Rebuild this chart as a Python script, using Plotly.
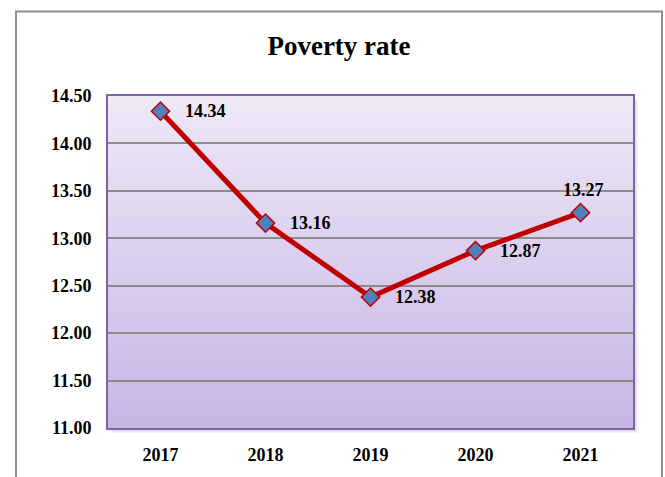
import plotly.graph_objects as go

# Poverty rate by year (%)
years = [2017, 2018, 2019, 2020, 2021]
rates = [14.34, 13.16, 12.38, 12.87, 13.27]
y_ticks = [11.0, 11.5, 12.0, 12.5, 13.0, 13.5, 14.0, 14.5]

# label placement per point: (x shift px, y shift px, x anchor)
label_place = [(22, 0, "left"), (22, 0, "left"), (22, 0, "left"), (22, 0, "left"), (3, 23, "center")]

W, H = 665, 477
L, R, T, B = 108, 32, 96, 47
plot_w, plot_h = W - L - R, H - T - B

font_fam = "Liberation Serif, Times New Roman, serif"

fig = go.Figure()
fig.add_trace(go.Scatter(
    x=years, y=rates, mode="lines+markers",
    line=dict(color="#C00000", width=5),
    marker=dict(symbol="diamond", size=14, color="#4F81BD",
                line=dict(color="#C00000", width=1.5)),
    hoverinfo="x+y", showlegend=False,
))

annotations = []
for yr, v, (dx, dy, anc) in zip(years, rates, label_place):
    annotations.append(dict(
        x=yr, y=v, xref="x", yref="y", text=f"{v:.2f}", showarrow=False,
        xanchor=anc, yanchor="middle", xshift=dx, yshift=dy,
        font=dict(family=font_fam, size=18, color="black", weight=700),
    ))

shapes = []


def px_x(p):
    return (p - L) / plot_w


def px_y(p):
    return (H - B - p) / plot_h


# outer chart frame
shapes.append(dict(type="rect", xref="paper", yref="paper",
                   x0=px_x(16), x1=px_x(662), y0=px_y(490), y1=px_y(11),
                   line=dict(color="#8E8E8E", width=2), fillcolor="rgba(0,0,0,0)",
                   layer="below"))

# soft drop shadow under the plot area
for i, a in enumerate([0.10, 0.08, 0.05]):
    o = 2 + i * 1.5
    shapes.append(dict(type="rect", xref="paper", yref="paper",
                       x0=o / plot_w, x1=1 + o / plot_w,
                       y0=-o / plot_h, y1=1 - o / plot_h,
                       line=dict(width=0), fillcolor=f"rgba(0,0,0,{a})",
                       layer="below"))

# vertical lavender gradient fill of the plot area
top_c = (238, 232, 246)
bot_c = (199, 181, 230)
n = 80
for i in range(n):
    t = i / (n - 1)
    c = tuple(round(bot_c[k] + (top_c[k] - bot_c[k]) * t) for k in range(3))
    shapes.append(dict(type="rect", xref="paper", yref="paper",
                       x0=0, x1=1, y0=i / n, y1=min(1, (i + 1) / n + 0.002),
                       line=dict(width=0), fillcolor=f"rgb{c}", layer="below"))

fig.update_layout(
    width=W, height=H,
    margin=dict(l=L, r=R, t=T, b=B, pad=0),
    paper_bgcolor="white", plot_bgcolor="rgba(0,0,0,0)",
    title=dict(text="<b>Poverty rate</b>", x=339 / W, xanchor="center",
               y=1 - 46 / H, yanchor="middle", xref="container", yref="container",
               font=dict(family=font_fam, size=27, color="black")),
    shapes=shapes, annotations=annotations,
    xaxis=dict(range=[years[0] - 0.5, years[-1] + 0.5], tickvals=years,
               ticktext=[str(y) for y in years],
               showgrid=False, zeroline=False,
               showline=True, linecolor="#8064A2", linewidth=2, mirror=True,
               ticks="", ticklabelstandoff=9,
               tickfont=dict(family=font_fam, size=18, color="black", weight=700)),
    yaxis=dict(range=[11, 14.5], tickvals=y_ticks, tickformat=".2f",
               showgrid=True, gridcolor="#8C8C8C", gridwidth=1.5, zeroline=False,
               showline=True, linecolor="#8064A2", linewidth=2, mirror=True,
               ticks="", ticklabelstandoff=11,
               tickfont=dict(family=font_fam, size=18, color="black", weight=700)),
)

fig.write_html("out.html")
